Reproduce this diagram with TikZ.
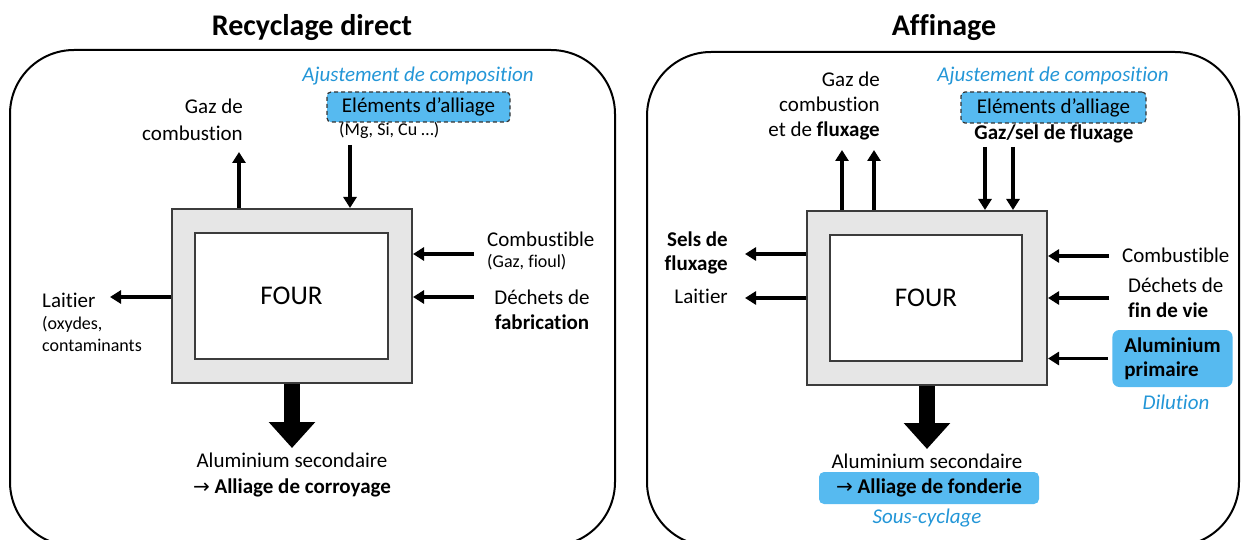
\documentclass[tikz,border=0pt]{standalone}
\usepackage{fontspec}
\setmainfont{Carlito}[Ligatures=NoCommon]
\newfontfamily\arrowfont{DejaVu Sans}
\usetikzlibrary{arrows.meta}
\definecolor{boxblue}{RGB}{86,186,240}
\definecolor{txtblue}{RGB}{35,150,215}
\definecolor{furngray}{RGB}{230,230,230}
\definecolor{edgegray}{RGB}{60,60,60}
\newcommand{\rarr}{{\arrowfont\fontsize{20}{24}\selectfont\mdseries →}}
\begin{document}
\begin{tikzpicture}[x=1pt,y=-1pt,
  txt/.style={inner sep=0pt, font=\fontsize{21}{25}\selectfont},
  sm/.style={inner sep=0pt, font=\fontsize{18}{21}\selectfont},
  ttl/.style={inner sep=0pt, font=\fontsize{30}{35}\selectfont\bfseries},
  note/.style={inner sep=0pt, font=\fontsize{21}{25}\selectfont\itshape, text=txtblue},
  frame/.style={draw=black, line width=2pt, rounded corners=64pt},
  furnace/.style={draw=edgegray, fill=furngray, line width=2pt, inner sep=0pt},
  cavity/.style={draw=edgegray, fill=white, line width=2pt, inner sep=0pt, font=\fontsize{27}{32}\selectfont},
  arr/.style={line width=3.4pt, -{Triangle[length=11pt,width=13pt]}},
  bigarr/.style={line width=16pt, -{Triangle[length=26pt,width=45pt]}},
  dashbox/.style={draw=black!80, dash pattern=on 4pt off 3pt, fill=boxblue, rounded corners=4pt, line width=1.2pt, inner sep=0pt, font=\fontsize{21}{25}\selectfont},
  bluebox/.style={fill=boxblue, rounded corners=7pt, inner sep=0pt, font=\fontsize{21}{24}\selectfont\bfseries},
]
\useasboundingbox (0,0) rectangle (1243,540);
\begin{scope}
  \clip (0,0) rectangle (1243,540);
  \draw[frame] (10,50) rectangle (615,546);
  \draw[frame] (647,52) rectangle (1239,546);
\end{scope}

% ---------- titles
\node[ttl, anchor=base] (t1) at (312,36) {Recyclage direct};
\node[ttl, anchor=base] (t2) at (944,36) {Affinage};

% ================= LEFT: Recyclage direct
\node[furnace, minimum width=240pt, minimum height=174pt] (f1) at (292,296) {};
\node[cavity, minimum width=193pt, minimum height=126pt] (c1) at (291.5,296) {FOUR};

\node[note, anchor=base] (aj1) at (418,82) {Ajustement de composition};
\node[dashbox, minimum width=183pt, minimum height=30pt] (el1) at (418.5,107) {Eléments d’alliage};
\node[sm, anchor=base west] (mg) at (339,136) {(Mg, Si, Cu …)};
\coordinate (e1) at (350,145);
\draw[arr] (e1) -- (e1 |- f1.north);

\node[txt, anchor=base east] (gz1a) at (243,114) {Gaz de};
\node[txt, anchor=base east] (gz1b) at (243,141) {combustion};
\coordinate (g1) at (239,152);
\draw[arr] (g1 |- f1.north) -- (g1);

\coordinate (cb1) at (474,254);
\draw[arr] (cb1) -- (cb1 -| f1.east);
\node[txt, anchor=base west] (comb1) at (487,247) {Combustible};
\node[sm, anchor=base west] (gf) at (487,268) {(Gaz, fioul)};

\coordinate (dc1) at (474,297);
\draw[arr] (dc1) -- (dc1 -| f1.east);
\node[txt, anchor=base] (dech1a) at (542,305) {Déchets de};
\node[txt, anchor=base] (dech1b) at (542,330) {\textbf{fabrication}};

\coordinate (lt1) at (110,297);
\draw[arr] (lt1 -| f1.west) -- (lt1);
\node[txt, anchor=base west] (lait1) at (42,307) {Laitier};
\node[sm, anchor=base west] (ox) at (42,329) {(oxydes,};
\node[sm, anchor=base west] (ct) at (42,351) {contaminants};

\draw[bigarr] (f1.south) -- ++(0,64);
\node[txt, anchor=base] (as1) at (292,467) {Aluminium secondaire};
\node[txt, anchor=base] (ac1) at (292,493) {\rarr{} \textbf{Alliage de corroyage}};

% ================= RIGHT: Affinage
\node[furnace, minimum width=240pt, minimum height=174pt] (f2) at (927,298) {};
\node[cavity, minimum width=192pt, minimum height=126pt] (c2) at (926,298) {FOUR};

\node[note, anchor=base] (aj2) at (1053,82) {Ajustement de composition};
\node[dashbox, minimum width=185pt, minimum height=31pt] (el2) at (1053.5,107.5) {Eléments d’alliage};
\node[txt, anchor=base] (gs) at (1054,140) {\textbf{Gaz/sel de fluxage}};
\coordinate (e2) at (985,147);
\coordinate (e3) at (1013,147);
\draw[arr] (e2) -- (e2 |- f2.north);
\draw[arr] (e3) -- (e3 |- f2.north);

\node[txt, anchor=base east] (gz2a) at (880,87) {Gaz de};
\node[txt, anchor=base east] (gz2b) at (880,112) {combustion};
\node[txt, anchor=base east] (gz2c) at (880,137) {et de \textbf{fluxage}};
\coordinate (g2) at (842,150);
\coordinate (g3) at (874,150);
\draw[arr] (g2 |- f2.north) -- (g2);
\draw[arr] (g3 |- f2.north) -- (g3);

\coordinate (cb2) at (1109,256);
\coordinate (dc2) at (1109,298);
\draw[arr] (cb2) -- (cb2 -| f2.east);
\draw[arr] (dc2) -- (dc2 -| f2.east);
\node[txt, anchor=base west] (comb2) at (1122,263) {Combustible};
\node[txt, anchor=base west] (dech2a) at (1128,292) {Déchets de};
\node[txt, anchor=base west] (dech2b) at (1128,317) {\textbf{fin de vie}};

\node[bluebox, align=left, inner xsep=12pt, minimum width=119pt, minimum height=57pt] (alu) at (1172.5,358.5) {Aluminium\\primaire};
\draw[arr] ([xshift=-4pt]alu.west) -- (alu.west -| f2.east);
\node[note, anchor=base] (dil) at (1176,409) {Dilution};

\coordinate (sl2) at (745,254);
\coordinate (lt2) at (745,298);
\draw[arr] (sl2 -| f2.west) -- (sl2);
\draw[arr] (lt2 -| f2.west) -- (lt2);
\node[txt, anchor=base east] (sela) at (728,247) {\textbf{Sels de}};
\node[txt, anchor=base east] (selb) at (728,271) {\textbf{fluxage}};
\node[txt, anchor=base east] (lait2) at (728,304) {Laitier};

\draw[bigarr] (f2.south) -- ++(0,63);
\node[txt, anchor=base] (as2) at (927,468) {Aluminium secondaire};
\node[bluebox, minimum width=220pt, minimum height=32pt, rounded corners=5pt] (af) at (929,488) {\rarr{} Alliage de fonderie};
\node[note, anchor=base] (sc) at (927,523) {Sous-cyclage};
\end{tikzpicture}
\end{document}
